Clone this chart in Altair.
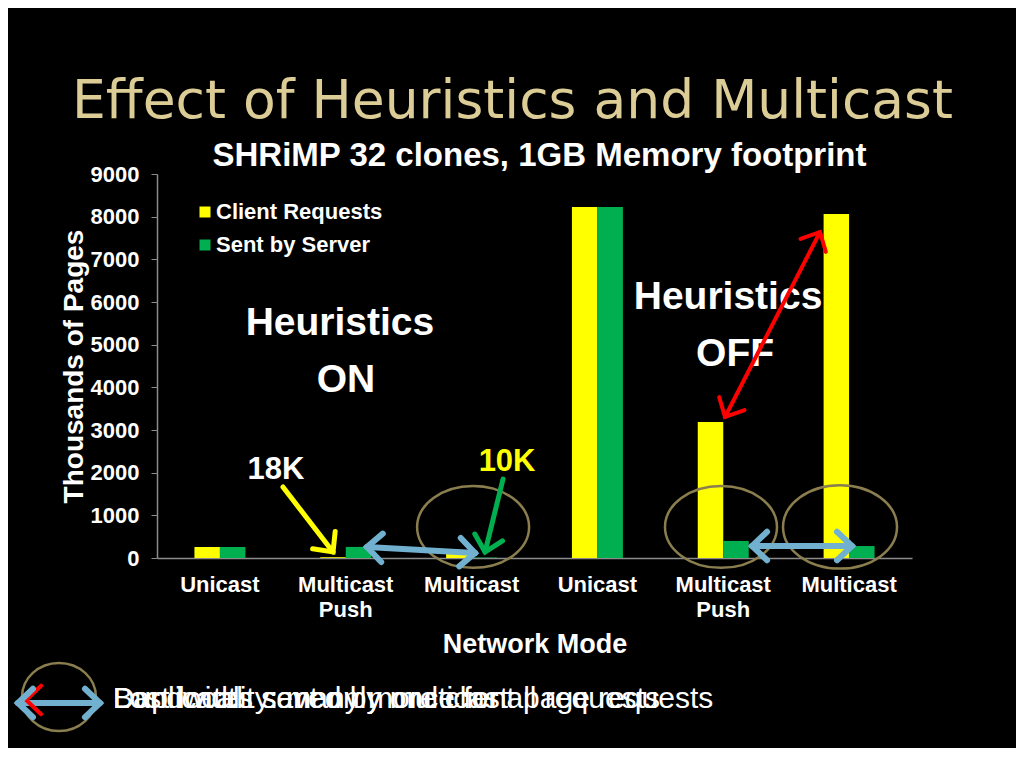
import math
import altair as alt
import pandas as pd

# ---------------- data ----------------
modes = ["Unicast", "Multicast Push", "Multicast", "Unicast", "Multicast Push", "Multicast"]
heuristics = ["ON", "ON", "ON", "OFF", "OFF", "OFF"]
client_requests = [258, 18, 150, 8225, 3190, 8060]   # thousands of pages
sent_by_server = [258, 260, 10, 8225, 400, 280]      # thousands of pages
series_names = ["Client Requests", "Sent by Server"]
series_colors = ["#ffff00", "#00b050"]
y_ticks = [0, 1000, 2000, 3000, 4000, 5000, 6000, 7000, 8000, 9000]

groups = [f"{m}|{h}" for m, h in zip(modes, heuristics)]
bar_rows = []
for g, c, s in zip(groups, client_requests, sent_by_server):
    bar_rows.append({"group": g, "series": series_names[0], "pages": c})
    bar_rows.append({"group": g, "series": series_names[1], "pages": s})
bar_df = pd.DataFrame(bar_rows)

# ---------------- annotation layout (in group-index / data units) ----------------
W, H = 755, 384
XMAX, YMAX = 6, 9000
PX_X = W / XMAX
PX_Y = H / YMAX

FONT = "Liberation Sans, Arial, sans-serif"

notes = pd.DataFrame({
    "text": ["Heuristics", "ON", "Heuristics", "OFF", "18K", "10K"],
    "x": [1.454, 1.502, 4.538, 4.594, 0.946, 2.782],
    "y": [5227, 3891, 5836, 4500, 1852, 2039],
    "color": ["white", "white", "white", "white", "white", "#ffff00"],
    "size": [39, 39, 39, 39, 31, 31],
})

bottom_notes = pd.DataFrame({
    "text": ["Lost locality: many more client page requests",
             "Duplicates sent only once for all requests",
             "Bandwidth saved by multicast"],
    "x": [-0.350, -0.350, -0.350],
    "y": [-3516, -3516, -3516],
})

slide_title = pd.DataFrame({"text": ["Effect of Heuristics and Multicast"],
                            "x": [2.825], "y": [10313]})

ell_path_a = "M -1 0 A 1 0.73 0 1 1 1 0 A 1 0.73 0 1 1 -1 0 Z"
ell_path_b = "M -1 0 A 1 0.92 0 1 1 1 0 A 1 0.92 0 1 1 -1 0 Z"
ellipses = pd.DataFrame({
    "x": [2.512, 4.482, 5.428, -0.779],
    "y": [727, 727, 727, -3258],
    "path": [ell_path_a, ell_path_a, ell_path_a, ell_path_b],
    "size": [112 ** 2, 112 ** 2, 114 ** 2, 74 ** 2],
})

BLUE = "#72b0d0"
arrows = [
    # x1, y1, x2, y2, color, width, double
    (1.001, 1664, 1.399, 141, "#ffff00", 5, False),
    (2.750, 1852, 2.607, 141, "#00b050", 5, False),
    (1.669, 258, 2.527, 117, BLUE, 6, True),
    (4.729, 281, 5.523, 281, BLUE, 6, True),
    (4.514, 3305, 5.269, 7641, "#ff0000", 4, True),
    (-1.105, -3399, -0.453, -3399, BLUE, 6, True),
]

def screen_angle(x1, y1, x2, y2):
    dx = (x2 - x1) * PX_X
    dy = -(y2 - y1) * PX_Y
    return math.degrees(math.atan2(dy, dx)) % 360

line_rows, head_rows = [], []
for x1, y1, x2, y2, col, w, dbl in arrows:
    line_rows.append({"x": x1, "y": y1, "x2": x2, "y2": y2, "color": col, "w": w})
    head_rows.append({"x": x2, "y": y2, "angle": screen_angle(x1, y1, x2, y2),
                      "color": col, "w": w})
    if dbl:
        head_rows.append({"x": x1, "y": y1, "angle": screen_angle(x2, y2, x1, y1),
                          "color": col, "w": w})
# small red head in the bottom key, partly under the blue one
head_rows.insert(0, {"x": -1.040, "y": -3328, "angle": 180, "color": "#ff0000", "w": 4})
lines_df = pd.DataFrame(line_rows)
heads_df = pd.DataFrame(head_rows)

CHEVRON = "M -1 -0.95 L 0 0 L -1 0.95"

xs = alt.Scale(domain=[0, XMAX], nice=False, zero=False)
ys = alt.Scale(domain=[0, YMAX], nice=False, zero=False)

# ---------------- layers ----------------
bars = alt.Chart(bar_df).mark_bar().encode(
    x=alt.X("group:N", sort=groups,
            scale=alt.Scale(paddingInner=0.595, paddingOuter=0.2975),
            axis=alt.Axis(title="Network Mode", labelExpr="split(split(datum.value, '|')[0], ' ')",
                          labelAngle=0, ticks=False, domainColor="#8c8c8c", domainWidth=1.5,
                          labelColor="white", labelFont=FONT, labelFontSize=22,
                          labelFontWeight="bold", labelLineHeight=25, labelPadding=16,
                          titleColor="white", titleFont=FONT, titleFontSize=27,
                          titleFontWeight="bold", titlePadding=11)),
    xOffset=alt.XOffset("series:N", sort=series_names,
                        scale=alt.Scale(paddingInner=0, paddingOuter=0)),
    y=alt.Y("pages:Q", scale=ys,
            axis=alt.Axis(values=y_ticks, grid=False, format="d",
                          domainColor="#8c8c8c", tickColor="#8c8c8c", tickSize=6,
                          domainWidth=1.5,
                          labelColor="white", labelFont=FONT, labelFontSize=22,
                          labelFontWeight="bold", labelPadding=12,
                          title="Thousands of Pages", titleColor="white", titleFont=FONT,
                          titleFontSize=28, titleFontWeight="bold", titlePadding=2)),
    color=alt.Color("series:N", scale=alt.Scale(domain=series_names, range=series_colors),
                    legend=alt.Legend(title=None, orient="none", legendX=37, legendY=27,
                                      symbolType="square", symbolSize=121,
                                      symbolStrokeWidth=0, labelColor="white",
                                      labelFont=FONT, labelFontSize=22,
                                      labelFontWeight="bold", rowPadding=11,
                                      labelOffset=0, padding=0, labelLimit=400)),
)

notes_layer = alt.Chart(notes).mark_text(font=FONT, fontWeight="bold",
                                         baseline="alphabetic", align="center").encode(
    x=alt.X("x:Q", scale=xs, axis=None),
    y=alt.Y("y:Q", scale=ys, axis=None),
    text="text:N",
    color=alt.Color("color:N", scale=None),
    size=alt.Size("size:Q", scale=None),
)

ellipse_layer = alt.Chart(ellipses).mark_point(filled=False, strokeWidth=2.5,
                                               color="#8a7e4e", opacity=1).encode(
    x=alt.X("x:Q", scale=xs, axis=None),
    y=alt.Y("y:Q", scale=ys, axis=None),
    shape=alt.Shape("path:N", scale=None),
    size=alt.Size("size:Q", scale=None),
)

line_layer = alt.Chart(lines_df).mark_rule(strokeCap="round").encode(
    x=alt.X("x:Q", scale=xs, axis=None),
    y=alt.Y("y:Q", scale=ys, axis=None),
    x2="x2:Q",
    y2="y2:Q",
    color=alt.Color("color:N", scale=None),
    strokeWidth=alt.StrokeWidth("w:Q", scale=None),
)

head_layer = alt.Chart(heads_df).mark_point(filled=False, opacity=1, size=900,
                                            shape=CHEVRON, strokeCap="round",
                                            strokeJoin="miter").encode(
    x=alt.X("x:Q", scale=xs, axis=None),
    y=alt.Y("y:Q", scale=ys, axis=None),
    angle=alt.Angle("angle:Q", scale=None),
    color=alt.Color("color:N", scale=None),
    strokeWidth=alt.StrokeWidth("w:Q", scale=None),
)

bottom_layer = alt.Chart(bottom_notes).mark_text(font=FONT, fontSize=30, color="white",
                                                 baseline="alphabetic", align="left").encode(
    x=alt.X("x:Q", scale=xs, axis=None),
    y=alt.Y("y:Q", scale=ys, axis=None),
    text="text:N",
)

title_layer = alt.Chart(slide_title).mark_text(font="DejaVu Sans", fontSize=53.5, color="#dccd96",
                                               baseline="alphabetic", align="center").encode(
    x=alt.X("x:Q", scale=xs, axis=None),
    y=alt.Y("y:Q", scale=ys, axis=None),
    text="text:N",
)

chart = alt.layer(
    bars, notes_layer, ellipse_layer, line_layer, head_layer, bottom_layer, title_layer
).resolve_scale(
    x="independent", color="independent", size="independent",
    shape="independent", strokeWidth="independent", angle="independent",
).resolve_axis(
    y="independent",
).properties(
    width=W, height=H,
    title=alt.TitleParams("SHRiMP 32 clones, 1GB Memory footprint", font=FONT,
                          fontSize=33, fontWeight="bold", color="white",
                          anchor="middle", dx=5, offset=-98),
    autosize=alt.AutoSizeParams(type="none"),
    padding={"left": 149, "top": 166, "right": 104, "bottom": 190},
).configure(background="black").configure_view(stroke=None)

chart.save("out.html", embed_options={"renderer": "svg", "actions": False})
